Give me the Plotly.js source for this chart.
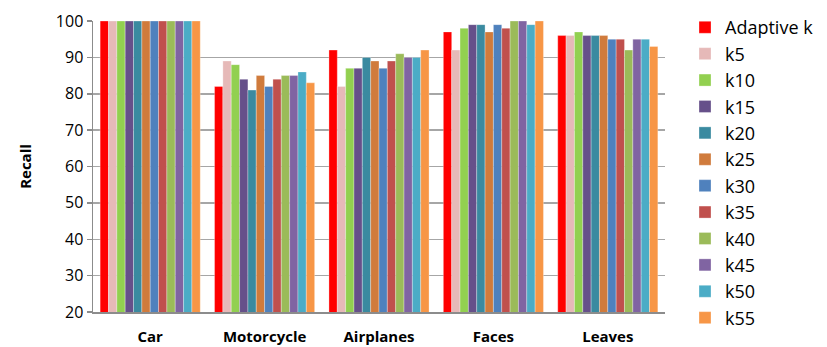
<!DOCTYPE html>
<html>
<head>
<meta charset="utf-8">
<script src="https://cdn.plot.ly/plotly-3.0.1.min.js"></script>
<style>html,body{margin:0;padding:0;background:#fff;}#chart{width:827px;height:347px;}</style>
</head>
<body>
<div id="chart"></div>
<script>
const categories = ["Car", "Motorcycle", "Airplanes", "Faces", "Leaves"];
const seriesNames = ["Adaptive k", "k5", "k10", "k15", "k20", "k25", "k30", "k35", "k40", "k45", "k50", "k55"];
const adaptiveK = [100, 82, 92, 97, 96];
const k5  = [100, 89, 82, 92, 96];
const k10 = [100, 88, 87, 98, 97];
const k15 = [100, 84, 87, 99, 96];
const k20 = [100, 81, 90, 99, 96];
const k25 = [100, 85, 89, 97, 96];
const k30 = [100, 82, 87, 99, 95];
const k35 = [100, 84, 89, 98, 95];
const k40 = [100, 85, 91, 100, 92];
const k45 = [100, 85, 90, 100, 95];
const k50 = [100, 86, 90, 99, 95];
const k55 = [100, 83, 92, 100, 93];
const seriesValues = [adaptiveK, k5, k10, k15, k20, k25, k30, k35, k40, k45, k50, k55];
const colors = ["#ff0000", "#e6b9b8", "#92d050", "#66508a", "#3a8aa0", "#d07b3c", "#4f81bd", "#c0504d", "#9bbb59", "#8064a2", "#4bacc6", "#f79646"];
const yTicks = [20, 30, 40, 50, 60, 70, 80, 90, 100];

const font = "Open Sans, Liberation Sans, sans-serif";
const traces = seriesNames.map((n, i) => ({
  type: "bar", name: n, x: categories, y: seriesValues[i],
  marker: {color: colors[i], line: {color: "rgba(255,255,255,0.6)", width: 0.5}}
}));

const layout = {
  width: 827, height: 347,
  margin: {l: 93, r: 162, t: 21, b: 35, autoexpand: false},
  paper_bgcolor: "#fff", plot_bgcolor: "#fff",
  barmode: "group", bargap: 0.125, bargroupgap: 0,
  font: {family: font, color: "#000"},
  xaxis: {
    showline: true, linecolor: "#8c8c8c", linewidth: 1.5,
    tickfont: {size: 15, family: font, weight: "bold"},
    ticks: "", showgrid: false, fixedrange: true, ticklabelstandoff: 10
  },
  yaxis: {
    range: [20, 100], tickvals: yTicks, ticktext: yTicks.map(String),
    showline: true, linecolor: "#8c8c8c", linewidth: 1.5,
    ticks: "outside", ticklen: 5, tickcolor: "#8c8c8c", tickwidth: 1.5,
    showgrid: true, gridcolor: "#a6a6a6", gridwidth: 1.5,
    tickfont: {size: 16, family: font},
    title: {text: "Recall", font: {size: 15, family: font, weight: "bold"}, standoff: 20},
    zeroline: false
  },
  legend: {
    x: 1.035, xanchor: "left", y: 1.041, yanchor: "top",
    font: {size: 18, family: font}, tracegroupgap: 0, itemwidth: 30,
    bgcolor: "rgba(0,0,0,0)", maxheight: 347
  },
  showlegend: true
};
Plotly.newPlot("chart", traces, layout, {staticPlot: true});
</script>
</body>
</html>
